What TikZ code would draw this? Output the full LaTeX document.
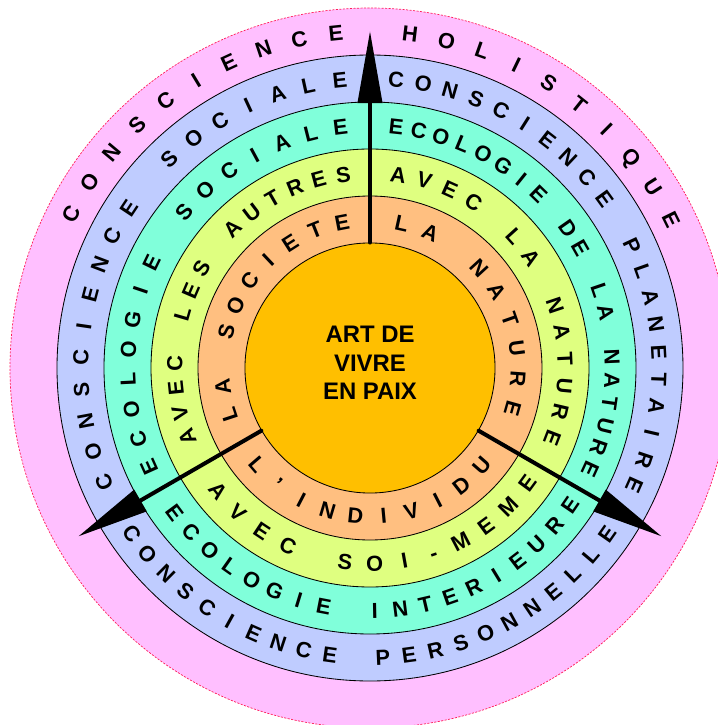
\documentclass[tikz,border=0pt]{standalone}
\usepackage{fontspec}
\setmainfont{Liberation Sans}
\usetikzlibrary{arrows.meta}

\definecolor{holisticpink}{RGB}{255,191,255}
\definecolor{consciblue}{RGB}{191,204,255}
\definecolor{ecogreen}{RGB}{128,255,218}
\definecolor{avecyellow}{RGB}{223,255,128}
\definecolor{peach}{RGB}{255,191,128}
\definecolor{coreorange}{RGB}{255,191,0}
\definecolor{rimred}{RGB}{255,30,90}

\newlength\ringw
\newcommand\ringfont{\fontsize{15.5}{15.5}\selectfont\bfseries}
% letter-spaced text on an arc: name, radius, first angle, last angle, turn, letters
\newcommand\ringtext[6]{%
  \gdef\ringsum{0}%
  \foreach \ch [count=\k] in {#6} {%
    \settowidth\ringw{\ringfont\ch}%
    \pgfmathsetmacro\ringwd{\ringw}%
    \expandafter\xdef\csname ringw-\k\endcsname{\ringwd}%
    \pgfmathsetmacro\ringtmp{\ringsum+\ringwd}\xdef\ringsum{\ringtmp}%
    \xdef\ringcount{\k}%
  }%
  \edef\wfirst{\csname ringw-1\endcsname}%
  \edef\wlast{\csname ringw-\ringcount\endcsname}%
  \pgfmathsetmacro\ringrad{#2*0.71132}%
  \pgfmathsetmacro\track{(abs(#4-(#3))*pi/180*\ringrad-\ringsum+(\wfirst+\wlast)/2)/(\ringcount-1)}%
  \pgfmathsetmacro\ringdir{((#4)>(#3))*2-1}%
  \gdef\ringpos{0}%
  \foreach \ch [count=\k] in {#6} {%
    \edef\ringwd{\csname ringw-\k\endcsname}%
    \pgfmathsetmacro\ang{#3+\ringdir*deg((\ringpos+(\k-1)*\track+\ringwd/2-\wfirst/2)/\ringrad)}%
    \node[letter,rotate={\ang+(#5)}] (#1-\k) at (\ang:#2) {\ch};%
    \pgfmathsetmacro\ringtmp{\ringpos+\ringwd}\xdef\ringpos{\ringtmp}%
  }%
}

\begin{document}
\begin{tikzpicture}[x=0.025cm,y=0.025cm,
letter/.style={inner sep=0pt,font=\ringfont,text height=11.1pt,text depth=0pt},
ring/.style={draw=black,line width=0.6pt},
arr/.style={line width=0.1cm,line cap=round,-{Triangle[length=1.8cm,width=0.6cm]}}]
\useasboundingbox (-370,-357) rectangle (348,368);
% rings, outside in
\fill[holisticpink] (0,0) circle[radius=360];
\draw[rimred,line width=0.5pt,dash pattern=on 1.5pt off 1pt] (0,0) circle[radius=360];
\draw[ring,fill=consciblue] (0,0) circle[radius=313];
\draw[ring,fill=ecogreen] (0,0) circle[radius=266];
\draw[ring,fill=avecyellow] (0,0) circle[radius=219];
\draw[ring,fill=peach] (0,0) circle[radius=172];
\node[circle,draw,fill=coreorange,minimum size=6.25cm,inner sep=0pt,line width=0.6pt] (core) at (0,0) {};
\node[align=center,inner sep=0pt,font=\fontsize{17}{20.3}\selectfont\bfseries] (motto) at (0,5) {ART DE\\VIVRE\\EN PAIX};
% outer ring
\ringtext{holis}{336.5}{152.8}{26.2}{-90}{C,O,N,S,C,I,E,N,C,E,~,H,O,L,I,S,T,I,Q,U,E}
% conscience ring
\ringtext{csoc}{289.5}{203.2}{96}{-90}{C,O,N,S,C,I,E,N,C,E,~,S,O,C,I,A,L,E}
\ringtext{cplan}{289.5}{84.8}{-24}{-90}{C,O,N,S,C,I,E,N,C,E,~,P,L,A,N,E,T,A,I,R,E}
\ringtext{cpers}{289.5}{214.8}{325}{90}{C,O,N,S,C,I,E,N,C,E,~,P,E,R,S,O,N,N,E,L,L,E}
% ecologie ring
\ringtext{esoc}{242.5}{204.2}{97}{-90}{E,C,O,L,O,G,I,E,~,S,O,C,I,A,L,E}
\ringtext{enat}{242.5}{83.8}{-24.6}{-90}{E,C,O,L,O,G,I,E,~,D,E,~,L,A,~,N,A,T,U,R,E}
\ringtext{eint}{242.5}{216.6}{325.6}{90}{E,C,O,L,O,G,I,E,~,I,N,T,E,R,I,E,U,R,E}
% avec ring
\ringtext{aaut}{195.5}{200.7}{97.9}{-90}{A,V,E,C,~,L,E,S,~,A,U,T,R,E,S}
\ringtext{anat}{195.5}{81.7}{-21}{-90}{A,V,E,C,~,L,A,~,N,A,T,U,R,E}
\ringtext{asoi}{195.5}{219}{323.8}{90}{A,V,E,C,~,S,O,I,-,M,E,M,E}
% inner ring
\ringtext{lsoc}{148.5}{198.2}{100.9}{-90}{L,A,~,S,O,C,I,E,T,E}
\ringtext{lnat}{148.5}{77.6}{-15.8}{-90}{L,A,~,N,A,T,U,R,E}
\ringtext{lind}{148.5}{220.7}{318.9}{90}{L,',I,N,D,I,V,I,D,U}
% arrows
\coordinate (tip-n) at (90:337);
\coordinate (tip-sw) at (210:337);
\coordinate (tip-se) at (330:337);
\draw[arr] (core.90) -- (tip-n);
\draw[arr] (core.210) -- (tip-sw);
\draw[arr] (core.330) -- (tip-se);
\end{tikzpicture}
\end{document}
